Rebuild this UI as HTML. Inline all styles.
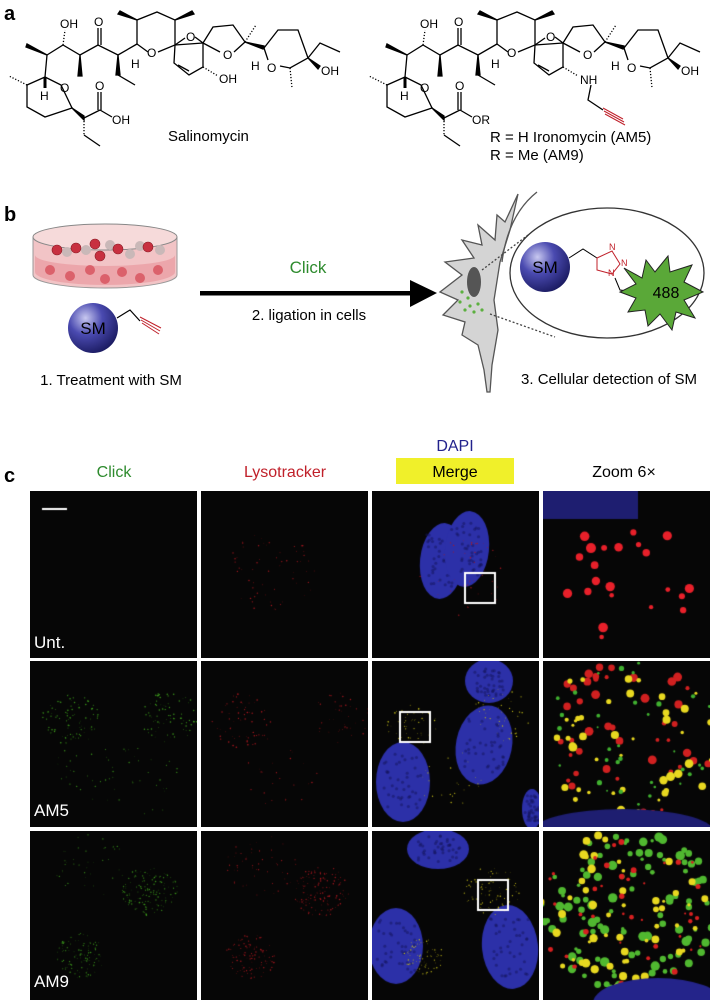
<!DOCTYPE html>
<html><head><meta charset="utf-8"><style>
html,body{margin:0;padding:0;background:#fff;}
body{width:710px;height:1000px;position:relative;overflow:hidden;font-family:"Liberation Sans",Arial,sans-serif;}
.t{position:absolute;white-space:nowrap;}
canvas{position:absolute;}
</style></head><body>
<div style="position:absolute;left:28px;top:489px;width:682px;height:511px;background:#fff"></div>
<svg width="710" height="489" style="position:absolute;left:0;top:0" font-family="Liberation Sans, Arial, sans-serif">
<defs>
<g id="skel" fill="none" stroke="#000" stroke-width="1.3">
<polygon points="27,85 45,77 61,85 72,108 45,117 27,107"/>
<line x1="27" y1="85" x2="9" y2="76" stroke-dasharray="1.2,1.8"/>
<line x1="45" y1="77" x2="47" y2="55"/>
<polygon points="47,55 27,44 26,47" fill="#000"/>
<polyline points="47,55 63,45 80,55 98,45 118,55 137,44"/>
<line x1="63" y1="45" x2="65" y2="30" stroke-dasharray="1.2,1.8"/>
<polygon points="80,55 78,76 82,76" fill="#000"/>
<line x1="98" y1="45" x2="98" y2="28"/><line x1="101" y1="45" x2="101" y2="28"/>
<polygon points="118,55 116,75 120,75" fill="#000"/>
<polyline points="118,75 135,85"/>
<polyline points="137,44 137,20 157,12 175,20 175,45 158,52"/>
<line x1="137" y1="44" x2="148" y2="52"/>
<polygon points="137,20 120,11 118,14" fill="#000"/>
<polygon points="175,20 192,11 194,14" fill="#000"/>
<line x1="45" y1="77" x2="45" y2="88" stroke-width="3"/>
<line x1="175" y1="45" x2="185" y2="38"/>
<polyline points="195,37 203,43 175,45"/>
<polyline points="175,45 174,63 189,75 203,67 203,43"/>
<line x1="178" y1="65" x2="189" y2="71"/>
<polyline points="203,43 213,27 233,25 245,42 234,52"/>
<line x1="203" y1="43" x2="220" y2="52"/>
<line x1="245" y1="42" x2="256" y2="25" stroke-dasharray="1.2,1.8"/>
<polygon points="245,42 264,46 263,49" fill="#000"/>
<polyline points="264,48 278,30 298,30 308,58 290,68 280,66"/>
<line x1="264" y1="48" x2="268" y2="60"/>
<polyline points="308,58 320,43 340,52"/>
<polygon points="308,58 320,66 318,69" fill="#000"/>
<line x1="290" y1="68" x2="292" y2="88" stroke-dasharray="1.2,1.8"/>
<polygon points="72,108 84,116 84,120" fill="#000"/>
<polyline points="84,118 100,110"/>
<line x1="98" y1="110" x2="98" y2="92"/><line x1="101" y1="110" x2="101" y2="92"/>
<line x1="100" y1="110" x2="112" y2="117"/>
<line x1="84" y1="118" x2="84" y2="135" stroke-dasharray="1.2,1.8"/>
<polyline points="84,135 100,146"/>
<line x1="203" y1="67" x2="218" y2="76" stroke-dasharray="1.2,1.8"/>
</g>
<radialGradient id="sph" cx="0.35" cy="0.3" r="0.75"><stop offset="0" stop-color="#c8c8f0"/><stop offset="0.45" stop-color="#4a4ab0"/><stop offset="1" stop-color="#1a1a60"/></radialGradient>
</defs>
<text x="4" y="20" font-size="20" font-weight="bold">a</text>
<use href="#skel"/>
<use href="#skel" transform="translate(360,0)"/>
<g font-size="12">
<text x="60" y="28">OH</text><text x="94" y="26">O</text><text x="147" y="57">O</text><text x="186" y="41">O</text><text x="223" y="59">O</text>
<text x="267" y="72">O</text><text x="131" y="68">H</text><text x="251" y="70">H</text><text x="219" y="83">OH</text><text x="321" y="75">OH</text>
<text x="40" y="100">H</text><text x="60" y="92">O</text><text x="95" y="90">O</text><text x="112" y="124">OH</text>
</g>
<text x="168" y="141" font-size="15">Salinomycin</text>
<g font-size="12" transform="translate(360,0)">
<text x="60" y="28">OH</text><text x="94" y="26">O</text><text x="147" y="57">O</text><text x="186" y="41">O</text><text x="223" y="59">O</text>
<text x="267" y="72">O</text><text x="131" y="68">H</text><text x="251" y="70">H</text><text x="321" y="75">OH</text>
<text x="40" y="100">H</text><text x="60" y="92">O</text><text x="95" y="90">O</text><text x="112" y="124">OR</text>
<text x="220" y="84">NH</text>
</g>
<polyline points="591,85 588,100 603,110" fill="none" stroke="#000" stroke-width="1.3"/>
<g stroke="#c0202a" stroke-width="1"><line x1="603" y1="108" x2="623" y2="119"/><line x1="604" y1="111" x2="624" y2="122"/><line x1="605" y1="114" x2="625" y2="125"/></g>
<text x="490" y="142" font-size="15">R = H Ironomycin (AM5)</text>
<text x="490" y="160" font-size="15">R = Me (AM9)</text>

<text x="4" y="221" font-size="20" font-weight="bold">b</text>
<path d="M33,237 L33,275 A72,13 0 0 0 177,275 L177,237 Z" fill="#f2c4c6" stroke="#999" stroke-width="1"/>
<path d="M35,255 A70,11 0 0 0 175,255 L175,272 A70,13 0 0 1 35,272Z" fill="#e99aa0" opacity="0.7"/>
<ellipse cx="105" cy="237" rx="72" ry="13" fill="#f6dada" stroke="#888" stroke-width="1"/>
<g fill="#c9b8b8"><circle cx="67" cy="252" r="5"/><circle cx="86" cy="250" r="5"/><circle cx="110" cy="245" r="5"/><circle cx="130" cy="254" r="5"/><circle cx="140" cy="246" r="5"/><circle cx="160" cy="250" r="5"/></g>
<g fill="#c83040" stroke="#8a1c26" stroke-width="0.6">
<circle cx="57" cy="250" r="5"/><circle cx="76" cy="248" r="5"/><circle cx="95" cy="244" r="5"/><circle cx="100" cy="256" r="5"/><circle cx="118" cy="249" r="5"/><circle cx="148" cy="247" r="5"/>
</g>
<g fill="#d8505c" opacity="0.8"><circle cx="50" cy="270" r="5"/><circle cx="70" cy="276" r="5"/><circle cx="90" cy="270" r="5"/><circle cx="105" cy="279" r="5"/><circle cx="122" cy="272" r="5"/><circle cx="140" cy="278" r="5"/><circle cx="158" cy="270" r="5"/></g>
<circle cx="93" cy="328" r="25" fill="url(#sph)"/>
<text x="93" y="334" font-size="17" text-anchor="middle">SM</text>
<polyline points="117,318 130,310 140,321" fill="none" stroke="#000" stroke-width="1.2"/>
<g stroke="#c0202a" stroke-width="1"><line x1="141" y1="320" x2="160" y2="331"/><line x1="142" y1="323" x2="159" y2="334"/><line x1="140" y1="317" x2="161" y2="328"/></g>
<text x="111" y="385" font-size="15" text-anchor="middle">1. Treatment with SM</text>
<rect x="200" y="291" width="212" height="4.5" fill="#000"/>
<polygon points="410,280 437,293 410,307" fill="#000"/>
<text x="308" y="273" font-size="17" fill="#2e8b2e" text-anchor="middle">Click</text>
<text x="309" y="320" font-size="15" text-anchor="middle">2. ligation in cells</text>
<path d="M518,194 L505,222 L497,215 L495,240 L478,225 L482,245 L462,240 L474,258 L445,262 L462,275 L440,292 L458,300 L443,315 L465,322 L462,335 L478,345 L484,370 L487,392 L490,392 L492,365 L498,330 L494,300 L500,262 L510,230 Z" fill="#d4d4d4" stroke="#555" stroke-width="1.3"/>
<path d="M537,192 Q508,215 502,262" fill="none" stroke="#555" stroke-width="1.3"/>
<ellipse cx="474" cy="282" rx="7" ry="15" fill="#555"/>
<g fill="#5cb040"><circle cx="462" cy="292" r="1.6"/><circle cx="468" cy="298" r="1.6"/><circle cx="460" cy="302" r="1.6"/><circle cx="470" cy="306" r="1.6"/><circle cx="478" cy="304" r="1.6"/><circle cx="465" cy="310" r="1.6"/><circle cx="474" cy="312" r="1.6"/><circle cx="482" cy="310" r="1.6"/></g>
<line x1="482" y1="270" x2="528" y2="235" stroke="#444" stroke-width="1.3" stroke-dasharray="2,2"/>
<line x1="490" y1="314" x2="555" y2="337" stroke="#444" stroke-width="1.3" stroke-dasharray="2,2"/>
<ellipse cx="607" cy="273" rx="97" ry="65" fill="#fff" stroke="#333" stroke-width="1.3"/>
<circle cx="545" cy="267" r="25" fill="url(#sph)"/>
<text x="545" y="273" font-size="17" text-anchor="middle">SM</text>
<polyline points="569,258 583,249 597,258" fill="none" stroke="#000" stroke-width="1"/>
<polygon points="597,258 612,251 620,264 612,274 597,270" fill="none" stroke="#c0202a" stroke-width="1"/>
<g font-size="9" fill="#c0202a"><text x="609" y="250">N</text><text x="621" y="266">N</text><text x="608" y="276">N</text></g>
<polyline points="615,278 620,290 635,292" fill="none" stroke="#000" stroke-width="1"/>
<polygon points="624,268 642,278 646,260 655,272 668,256 670,272 692,265 684,282 703,292 684,300 695,318 676,312 672,330 660,314 648,326 645,310 628,312 636,298 620,292 636,284" fill="#5aa838" stroke="#222" stroke-width="1"/>
<text x="666" y="298" font-size="16" text-anchor="middle">488</text>
<text x="609" y="384" font-size="15" text-anchor="middle">3. Cellular detection of SM</text>

<text x="4" y="482" font-size="20" font-weight="bold">c</text>
<text x="114" y="477" font-size="16" fill="#2e8b2e" text-anchor="middle">Click</text>
<text x="285" y="477" font-size="16" fill="#c0202a" text-anchor="middle">Lysotracker</text>
<text x="455" y="451" font-size="16" fill="#22228c" text-anchor="middle">DAPI</text>
<rect x="396" y="458" width="118" height="26" fill="#f0f02a"/>
<text x="455" y="477" font-size="16" text-anchor="middle">Merge</text>
<text x="624" y="477" font-size="16" text-anchor="middle">Zoom 6×</text>
</svg>
<div id="grid"></div>
<div class="t" style="left:34px;top:633px;color:#fff;font-size:17px">Unt.</div>
<div class="t" style="left:34px;top:801px;color:#fff;font-size:17px">AM5</div>
<div class="t" style="left:34px;top:972px;color:#fff;font-size:17px">AM9</div>
<script>
var cols=[30,201,372,543],rows=[491,661,831],H=[167,166,169];
var seed=7;function r(){seed=(seed*16807)%2147483647;return seed/2147483647;}
function cv(c,ro){var e=document.createElement('canvas');e.width=167;e.height=H[ro];e.style.left=cols[c]+'px';e.style.top=rows[ro]+'px';document.getElementById('grid').appendChild(e);var x=e.getContext('2d');x.fillStyle='#060606';x.fillRect(0,0,e.width,e.height);return x;}
function dots(x,cx,cy,rad,n,col,sz){x.fillStyle=col;for(var i=0;i<n;i++){var a=r()*6.283,d=Math.sqrt(r())*rad;x.beginPath();x.arc(cx+Math.cos(a)*d,cy+Math.sin(a)*d*0.9,sz*(0.5+r()),0,6.283);x.fill();}}
function nuc(x,cx,cy,rx,ry,rot){x.save();x.fillStyle='#2c30a8';x.beginPath();x.ellipse(cx,cy,rx,ry,rot,0,6.283);x.fill();x.fillStyle='rgba(20,20,90,0.5)';for(var i=0;i<40;i++){x.beginPath();x.arc(cx+(r()-0.5)*rx*1.4,cy+(r()-0.5)*ry*1.4,1.5,0,6.283);x.fill();}x.restore();}
function box(x,a,b){x.strokeStyle='#fff';x.lineWidth=2;x.strokeRect(a,b,30,30);}
var G='#3c9a1c',R='#b01820',Y='#c8c018';
var x=cv(0,0);x.fillStyle='#fff';x.fillRect(12,17,25,2);
x=cv(1,0);dots(x,70,80,45,60,R,0.5);
x=cv(2,0);nuc(x,70,70,22,38,0.1);nuc(x,95,58,22,38,0.1);dots(x,90,85,45,40,R,0.5);box(x,93,82);
x=cv(3,0);x.fillStyle='#1e1e70';x.fillRect(0,0,95,28);dots(x,90,90,75,22,'#e8202a',3.5);
x=cv(0,1);dots(x,40,60,30,90,G,0.55);dots(x,140,55,30,80,G,0.55);dots(x,110,120,40,30,G,0.5);dots(x,60,110,35,25,G,0.5);
x=cv(1,1);dots(x,40,60,30,60,R,0.55);dots(x,140,55,30,40,R,0.5);dots(x,80,110,40,25,R,0.5);
x=cv(2,1);nuc(x,117,20,24,22,0);nuc(x,112,84,28,40,0.2);nuc(x,31,121,27,40,0);nuc(x,160,148,10,20,0);dots(x,40,65,25,50,Y,0.55);dots(x,130,55,30,45,Y,0.5);dots(x,80,120,35,25,Y,0.5);box(x,28,51);
x=cv(3,1);dots(x,85,80,90,45,'#d02020',3);dots(x,85,80,90,45,'#e8d820',3);dots(x,85,80,90,35,'#40b030',1.8);x.fillStyle='#1e1e70';x.beginPath();x.ellipse(80,170,90,22,0,0,6.283);x.fill();
x=cv(0,2);dots(x,120,60,28,140,G,0.5);dots(x,50,125,25,100,G,0.5);dots(x,60,35,35,40,G,0.45);
x=cv(1,2);dots(x,120,60,28,140,R,0.5);dots(x,50,125,25,100,R,0.5);dots(x,60,35,35,50,R,0.45);
x=cv(2,2);nuc(x,66,18,31,20,0);nuc(x,24,115,27,38,0);nuc(x,138,116,28,42,-0.1);dots(x,120,60,28,80,Y,0.5);dots(x,52,125,20,70,Y,0.5);box(x,106,49);
x=cv(3,2);dots(x,85,80,90,110,'#50b830',3.2);dots(x,85,80,90,55,'#e8d820',3);dots(x,85,80,90,40,'#d82020',2);x.fillStyle='#24248a';x.beginPath();x.ellipse(115,172,65,25,0,0,6.283);x.fill();
</script>
</body></html>
